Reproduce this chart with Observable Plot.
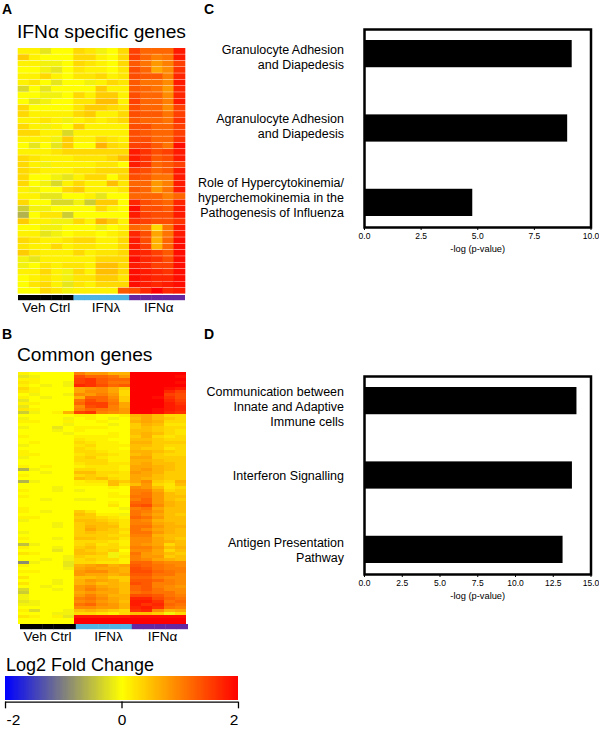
<!DOCTYPE html>
<html><head><meta charset="utf-8">
<script src="https://cdn.jsdelivr.net/npm/d3@7"></script>
<script src="https://cdn.jsdelivr.net/npm/@observablehq/plot@0.6"></script>
<style>
html,body{margin:0;padding:0;background:#fff}
#page{position:relative;width:599px;height:729px;overflow:hidden;font-family:"Liberation Sans",Arial,sans-serif;color:#000}
#page svg{position:absolute;background:transparent;font-family:"Liberation Sans",Arial,sans-serif}
#page svg.soft{filter:blur(0.55px)}
.t{position:absolute;white-space:nowrap;line-height:1}
</style></head><body><div id="page"></div>
<script>
// Samples and groups
const samples = ["V1","V2","V3","V4","V5","L1","L2","L3","L4","L5","A1","A2","A3","A4","A5"];
const groupColors = ["#000000","#4fb3e3","#6528a0"];
const groupLabels = ["Veh Ctrl","IFNλ","IFNα"];
const groupLabelSamples = ["V3","L3","A3"];

// Log2 fold change x10, one row per gene (15 samples)
const heatA = [
[1,1,-2,0,0,3,2,-1,0,3,15,12,12,12,18],
[4,1,0,0,0,3,3,1,0,3,15,12,10,11,18],
[1,1,-1,-1,0,3,2,1,0,3,13,11,8,10,15],
[0,0,-1,-2,0,2,1,1,0,2,14,12,7,9,16],
[1,1,3,1,0,2,2,3,1,2,14,13,13,10,17],
[1,2,0,-2,0,0,-1,1,3,2,13,11,11,9,18],
[-3,0,-2,0,0,0,0,4,1,1,13,12,11,8,17],
[0,0,-1,-1,0,3,1,4,4,1,14,12,12,9,17],
[0,-2,-1,0,0,2,2,5,5,1,15,12,12,10,18],
[3,0,0,0,0,2,4,4,3,2,14,12,12,9,15],
[3,1,1,1,1,3,4,1,1,3,14,13,13,11,15],
[1,1,2,1,-1,1,2,1,2,3,13,12,12,11,16],
[3,1,-1,1,0,4,1,1,1,1,14,14,12,12,15],
[3,3,1,1,-3,1,1,1,1,1,14,13,12,12,15],
[1,1,1,-1,4,1,1,3,2,1,14,14,12,12,16],
[0,-2,0,-2,4,0,0,6,3,2,15,15,13,11,19],
[1,1,1,2,3,3,3,3,3,3,18,16,14,15,18],
[3,2,1,1,1,2,2,2,3,5,18,16,13,14,18],
[3,1,-1,1,1,1,1,2,2,0,18,16,12,13,15],
[3,2,1,1,1,2,2,3,3,3,15,14,12,13,18],
[3,0,0,-1,-2,1,3,3,0,3,14,13,11,11,18],
[3,0,-1,-3,1,3,1,1,5,2,12,12,8,10,18],
[1,-1,0,0,3,4,1,1,1,2,13,12,8,11,18],
[1,1,-2,-2,0,0,1,-2,0,0,12,12,12,10,12],
[3,0,0,-3,-3,-1,-4,4,4,0,17,14,13,12,17],
[-4,-1,-1,0,0,0,0,3,1,0,19,14,14,13,18],
[-6,0,2,2,-4,0,0,0,0,0,18,15,14,14,18],
[4,1,1,-1,-1,3,1,6,4,1,16,15,14,14,16],
[0,0,-1,-1,0,0,0,-1,0,1,12,11,3,11,18],
[1,1,-2,-1,0,1,1,0,1,2,17,14,7,11,18],
[3,2,1,1,2,3,3,1,1,3,18,14,6,12,19],
[2,1,1,3,1,2,2,1,1,3,18,15,6,12,19],
[4,2,1,1,1,3,1,2,2,3,18,17,15,13,19],
[-1,-2,1,1,1,1,1,3,3,3,19,17,16,14,19],
[-1,0,2,1,2,2,1,5,5,3,18,17,15,15,19],
[1,1,3,1,-1,3,1,5,5,3,19,18,17,16,19],
[0,1,2,1,-1,2,2,4,4,2,19,18,17,17,19],
[0,2,3,1,-2,2,1,3,3,3,19,18,17,18,19],
[0,0,3,2,-1,1,1,1,1,13,14,17,20,17,18]
];
const heatB = [
[1,0,0,0,0,10,8,8,6,6,20,20,20,20,20],
[-2,-1,0,0,0,14,12,12,11,8,20,20,20,20,19],
[1,1,0,0,0,15,16,13,12,12,20,20,20,20,20],
[2,1,0,0,-1,15,16,13,11,11,20,20,20,20,19],
[1,0,-1,0,-1,17,16,14,12,13,20,20,20,20,20],
[3,1,0,0,0,7,8,9,7,4,20,20,20,19,18],
[2,1,0,0,0,7,9,9,7,3,20,20,20,17,15],
[0,-1,0,0,-1,9,8,10,8,3,20,20,20,15,14],
[1,0,-1,0,0,6,12,12,9,4,20,20,19,16,14],
[-2,0,0,0,0,11,14,12,10,4,20,20,20,17,15],
[1,1,0,0,0,12,15,15,11,7,20,20,20,18,16],
[-2,0,0,0,0,9,14,15,10,7,20,20,20,18,17],
[2,1,0,0,0,10,12,11,10,8,20,20,19,18,17],
[-4,-1,0,1,6,15,16,10,9,8,20,20,19,17,16],
[0,0,0,0,0,1,1,0,0,1,6,7,5,3,3],
[-1,0,0,0,-1,0,1,0,-1,0,5,7,5,4,3],
[1,1,0,0,1,0,0,1,0,0,6,7,6,3,3],
[0,0,0,0,-1,0,0,0,-1,0,4,6,5,2,2],
[-1,0,0,-2,0,1,1,1,0,0,4,5,4,3,3],
[0,0,0,-1,0,1,0,0,0,0,5,5,4,3,2],
[0,0,0,0,-1,0,0,0,1,0,5,6,5,3,2],
[1,0,0,0,0,1,1,1,1,0,4,6,3,2,3],
[0,0,0,0,0,2,1,1,0,0,5,5,4,3,3],
[0,1,0,0,0,3,2,1,1,0,6,6,4,4,4],
[-1,0,0,0,0,2,3,1,1,1,5,5,4,3,3],
[0,0,0,0,0,3,2,1,1,0,5,4,4,2,3],
[1,0,0,0,0,3,3,2,1,1,6,6,5,4,3],
[1,1,0,0,0,2,3,3,2,1,5,6,4,3,3],
[-1,0,0,0,0,3,4,2,1,1,7,7,4,4,4],
[0,0,0,0,0,3,3,3,1,1,6,6,5,4,4],
[0,0,0,0,0,2,3,3,2,2,6,7,5,5,4],
[1,0,1,0,0,1,2,2,2,1,7,7,6,5,4],
[-6,-1,0,0,0,3,3,2,2,1,7,8,6,5,4],
[0,0,-1,0,0,5,5,3,3,2,8,7,6,4,4],
[1,0,0,0,0,3,4,3,2,2,7,7,5,4,4],
[0,0,0,0,0,5,4,5,3,2,7,6,5,4,4],
[-6,-1,0,0,0,1,2,2,5,4,7,9,4,3,6],
[0,0,0,0,0,1,1,1,5,2,5,8,3,2,5],
[0,0,0,-1,0,0,0,0,1,0,9,8,5,2,3],
[1,0,0,-1,0,-1,0,0,0,0,10,10,7,3,4],
[0,0,0,0,0,0,0,0,1,0,10,11,8,5,4],
[1,0,0,0,0,0,0,0,1,1,11,11,8,5,5],
[0,0,-1,0,0,-1,-1,0,0,0,10,12,8,5,4],
[0,0,0,0,0,0,0,0,1,0,12,12,8,6,5],
[0,0,0,0,0,0,0,0,2,0,13,14,9,6,5],
[1,0,0,0,0,0,0,0,0,-1,10,11,7,5,5],
[1,0,-1,0,0,4,2,0,0,0,11,10,8,5,5],
[0,0,0,0,0,5,4,1,1,-1,11,9,7,5,4],
[1,1,0,0,0,4,4,3,2,1,12,11,8,5,5],
[-1,0,0,0,0,5,5,4,3,2,10,9,6,5,5],
[0,0,0,-1,0,4,5,5,4,2,10,10,7,6,5],
[0,0,0,-1,0,4,6,5,5,2,11,11,8,6,6],
[0,0,0,0,0,4,7,5,4,3,11,9,7,6,5],
[-1,0,0,0,0,4,5,4,4,2,11,11,8,6,5],
[0,0,0,0,0,4,4,4,3,3,10,10,6,5,5],
[1,0,0,-1,0,5,5,4,4,2,9,9,7,5,4],
[0,0,0,0,0,3,3,3,2,1,9,9,7,6,5],
[-5,-1,0,0,0,3,4,2,3,1,9,8,7,3,5],
[1,0,0,-1,0,4,5,3,3,2,10,10,8,5,6],
[0,0,0,-2,0,5,4,3,4,0,9,9,7,3,5],
[2,1,0,0,0,5,5,4,-1,1,11,8,7,5,4],
[0,0,0,0,-1,4,3,3,-1,2,10,8,8,4,5],
[0,0,-1,0,-1,3,4,3,3,1,10,9,7,6,5],
[-9,-1,0,0,-2,3,3,2,2,1,12,12,10,9,9],
[1,0,0,0,-2,6,7,8,6,7,13,12,11,10,9],
[0,0,0,0,-1,7,8,7,7,6,14,13,11,10,10],
[1,1,0,0,0,8,9,9,7,6,14,14,12,11,10],
[0,0,0,0,0,8,7,7,6,7,13,13,11,11,9],
[2,0,0,0,0,5,5,6,4,4,12,12,10,9,9],
[0,0,0,-1,0,6,8,7,6,4,13,13,12,10,9],
[2,0,0,-1,0,6,7,5,6,5,14,13,10,10,9],
[0,0,-1,0,0,8,9,7,6,5,12,13,10,9,8],
[-3,0,0,-1,0,8,10,8,7,5,12,13,11,9,9],
[-4,0,0,0,0,7,8,7,7,5,11,12,11,11,9],
[-1,0,0,0,0,8,10,8,6,6,14,14,13,11,10],
[-1,0,0,0,0,10,11,9,7,6,17,17,14,12,11],
[-2,-1,0,0,0,9,10,8,7,5,18,18,16,11,12],
[-1,-1,0,0,0,11,12,9,8,6,18,16,17,12,11],
[0,0,0,0,0,9,9,8,8,6,17,18,16,11,10],
[1,-3,0,0,-1,5,6,5,4,3,16,17,9,6,7],
[0,0,0,-1,-1,3,3,2,1,3,5,5,4,-1,3],
[2,1,0,1,-2,18,18,18,18,18,19,19,19,19,19],
[0,0,0,0,0,20,20,20,20,20,20,20,20,20,20],
[0,0,0,0,0,20,20,20,20,20,20,20,20,20,20]
];

// Pathway enrichment
const pathwaysC = ["Granulocyte Adhesion\nand Diapedesis","Agranulocyte Adhesion\nand Diapedesis","Role of Hypercytokinemia/\nhyperchemokinemia in the\nPathogenesis of Influenza"];
const valuesC = [9.17,8.97,4.78];
const pathwaysD = ["Communication between\nInnate and Adaptive\nImmune cells","Interferon Signalling","Antigen Presentation\nPathway"];
const valuesD = [14.07,13.77,13.15];
const ticksC = [0,2.5,5,7.5,10];
const ticksD = [0,2.5,5,7.5,10,12.5,15];
const legendTicks = [-2,0,2];

const page = document.getElementById("page");
const colorScale = {type:"linear",domain:[-2,0,2],range:["#0000ff","#ffff00","#ff0000"],interpolate:"rgb"};
function place(svg,left,top,cls){svg.style.left=left+"px";svg.style.top=top+"px";if(cls)svg.classList.add(cls);page.appendChild(svg);}
function text(s,left,top,size,bold){
  const d=document.createElement("div");d.className="t";d.textContent=s;
  d.style.left=left+"px";d.style.top=top+"px";d.style.fontSize=size+"px";if(bold)d.style.fontWeight="bold";
  page.appendChild(d);
}
function heatmap(rows,left,top,w,h,gap){
  const table=rows.flatMap((r,i)=>r.map((v,j)=>({row:i,sample:samples[j],value:v/10})));
  const opts=gap>0?{insetBottom:gap,insetLeft:-0.3,insetRight:-0.3}:{shapeRendering:"crispEdges"};
  place(Plot.plot({
    width:w,height:h,margin:0,style:{overflow:"visible"},
    x:{type:"band",domain:samples,axis:null,padding:0,round:false},
    y:{type:"band",domain:d3.range(rows.length),axis:null,padding:0,round:false},
    color:colorScale,
    marks:[Plot.cell(table,{x:"sample",y:"row",fill:"value",...opts})]
  }),left,top,"soft");
}
function groupBar(left,top,w,labelDx){
  const table=samples.map((s,j)=>({sample:s,color:groupColors[Math.floor(j/5)]}));
  place(Plot.plot({
    width:w,height:22,margin:0,marginBottom:17,
    x:{type:"band",domain:samples,axis:null,padding:0,round:false},
    marks:[
      Plot.cell(table,{x:"sample",fill:"color",inset:-0.2}),
      ...groupLabels.map((l,i)=>Plot.text([l],{x:()=>groupLabelSamples[i],frameAnchor:"bottom",lineAnchor:"middle",dy:6.8,dx:labelDx[i],text:d=>d,fontSize:13.5,fill:"#000"}))
    ]
  }),left,top);
}
function bars(cats,vals,ticks,xmax,nudge,left,top){
  const fw=226.5,fh=198,ml=174,mb=34,mt=2,mr=8;
  place(Plot.plot({
    width:ml+fw+mr,height:mt+fh+mb,marginLeft:ml,marginRight:mr,marginTop:mt,marginBottom:mb,
    x:{domain:[0,xmax]},
    y:{type:"band",domain:cats,axis:null,paddingInner:0.634,paddingOuter:0.148,round:false},
    marks:[
      Plot.barX(cats.map((c,i)=>({c,v:vals[i]})),{y:"c",x:"v",fill:"#000"}),
      Plot.frame({stroke:"#000",strokeWidth:2.5}),
      Plot.axisX({ticks,tickSize:3,tickPadding:2,tickFormat:d3.format(".1f"),fontSize:8.5,label:null,stroke:"#000"}),
      Plot.text(["-log (p-value)"],{frameAnchor:"bottom",lineAnchor:"middle",dy:21.3,text:d=>d,fontSize:9.3,fill:"#000"}),
      ...cats.map((c,i)=>Plot.text([c],{x:()=>0,y:d=>d,text:d=>d,dx:-20.5,dy:nudge[i],textAnchor:"end",fontSize:12.5,lineHeight:1.2,fill:"#000"}))
    ]
  }),left,top);
}

// Panel letters and titles
text("A",2,2,14,true);text("B",2,327,14,true);text("C",204,2,14,true);text("D",204,327,14,true);
text("IFNα specific genes",17,22,19.2);
text("Common genes",17,345,19.2);

heatmap(heatA,18,48,167,246,0.4);
groupBar(18,294.5,167,[0,4,1]);
heatmap(heatB,18,372,168,251.5,0);
groupBar(20,624,168,[-1,4,2]);

bars(pathwaysC,valuesC,ticksC,10,[2.6,-2.8,-5.8],190,26.7);
bars(pathwaysD,valuesD,ticksD,15,[5,0,-0.5],190,373.9);

// Colour key
const rampStart = d3.range(-2,2,0.02);
text("Log2 Fold Change",6,656,18);
place(Plot.plot({
  width:250,height:55.6,marginLeft:5,marginRight:12,marginTop:2,marginBottom:30,
  x:{domain:[-2,2],axis:null},
  y:{domain:[0,1],axis:null},
  color:colorScale,
  marks:[
    Plot.rect(rampStart,{x1:d=>d,x2:d=>d+0.02,y1:0,y2:1,fill:d=>d,shapeRendering:"crispEdges"}),
    Plot.ruleY([-0.085],{stroke:"#000",strokeWidth:1.3}),
    Plot.ruleX(legendTicks,{y1:-0.085,y2:-0.37,stroke:"#000",strokeWidth:1.3}),
    Plot.text([-2],{x:d=>d,frameAnchor:"bottom",lineAnchor:"middle",dy:19.7,dx:1,textAnchor:"start",text:d=>String(d),fontSize:15.5,fill:"#000"}),
    Plot.text([0],{x:d=>d,frameAnchor:"bottom",lineAnchor:"middle",dy:19.7,textAnchor:"middle",text:d=>String(d),fontSize:15.5,fill:"#000"}),
    Plot.text([2],{x:d=>d,frameAnchor:"bottom",lineAnchor:"middle",dy:19.7,textAnchor:"end",text:d=>String(d),fontSize:15.5,fill:"#000"})
  ]
}),0,673.7);
</script></body></html>
